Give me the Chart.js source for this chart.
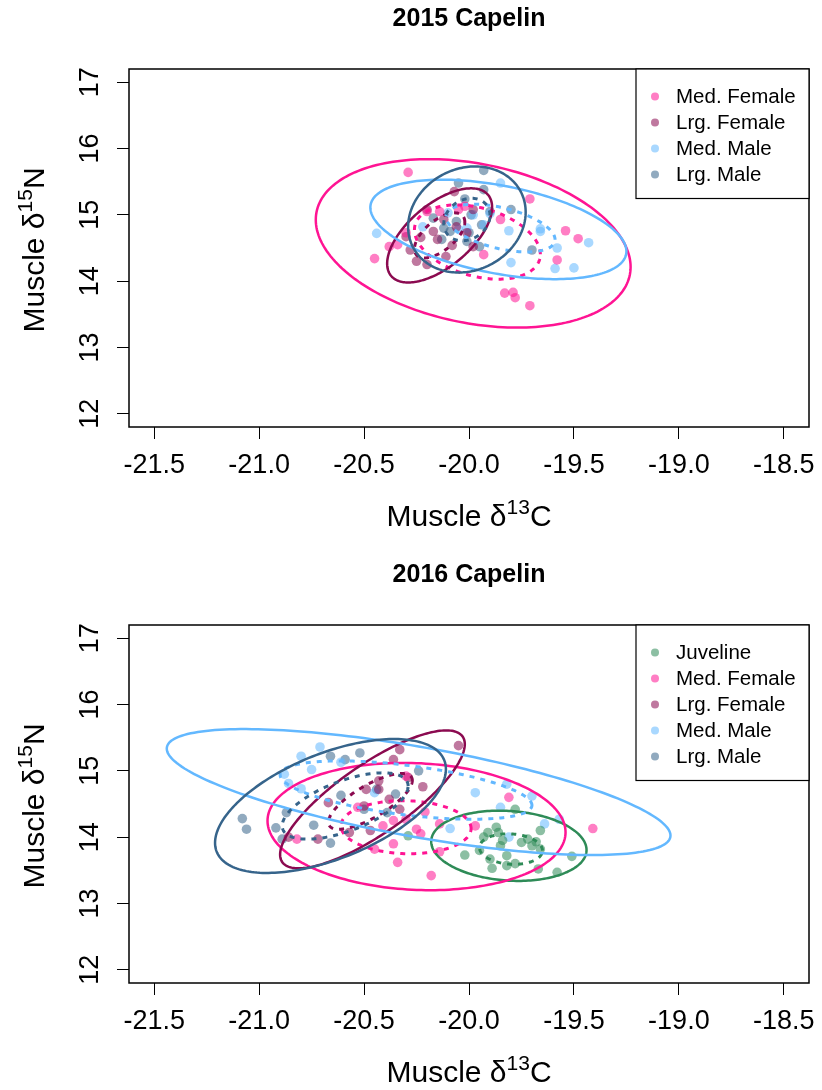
<!DOCTYPE html>
<html>
<head>
  <title>Capelin muscle isotopes</title>
  <script src="https://cdn.jsdelivr.net/npm/chart.js"></script>
  <style>
    html, body { margin: 0; padding: 0; background: #fff; overflow: hidden; }
    canvas { display: block; }
  </style>
</head>
<body>
  <canvas id="chart2015" width="822" height="556"></canvas>
  <canvas id="chart2016" width="822" height="556"></canvas>

  <script>
    // axis ticks
    const xTicks = [-21.5, -21.0, -20.5, -20.0, -19.5, -19.0, -18.5];
    const yTicks = [12, 13, 14, 15, 16, 17];

    // 2015 groups
    const groups2015 = ['Med. Female', 'Lrg. Female', 'Med. Male', 'Lrg. Male'];
    const medFemale2015X = [-20.29, -19.71, -19.54, -19.48, -19.58, -19.83, -19.79, -19.78, -19.71, -20.45, -20.38, -20.34, -19.93, -19.85, -20.05, -20.02, -20.20, -20.30, -20.14];
    const medFemale2015Y = [15.64, 15.24, 14.76, 14.64, 14.32, 13.82, 13.83, 13.75, 13.63, 14.34, 14.52, 14.55, 14.40, 14.93, 15.08, 15.13, 15.05, 14.73, 15.05];
    const lrgFemale2015X = [-20.07, -20.20, -20.12, -20.30, -20.28, -20.25, -20.20, -20.11, -20.08, -20.15, -19.98, -20.06, -20.01, -20.17, -20.23, -19.98];
    const lrgFemale2015Y = [15.35, 15.08, 14.93, 14.67, 14.47, 14.30, 14.25, 14.37, 14.54, 14.63, 15.08, 14.82, 14.73, 14.75, 14.66, 14.52];
    const medMale2015X = [-20.44, -20.22, -20.10, -19.98, -19.93, -19.85, -19.81, -19.80, -19.66, -19.58, -19.43, -19.59, -19.50, -20.01, -20.05, -19.90, -19.66];
    const medMale2015Y = [14.72, 14.82, 15.03, 15.00, 14.85, 15.48, 14.76, 14.28, 14.79, 14.50, 14.58, 14.19, 14.20, 14.80, 14.78, 15.02, 14.75];
    const lrgMale2015X = [-19.93, -20.05, -19.93, -20.02, -19.80, -20.17, -20.12, -20.09, -20.00, -20.01, -19.95, -19.70, -20.13, -19.99, -20.06, -19.90, -19.94];
    const lrgMale2015Y = [15.67, 15.48, 15.38, 15.24, 15.08, 14.95, 14.80, 14.75, 14.73, 14.60, 14.52, 14.47, 14.63, 15.00, 14.90, 15.05, 14.85];

    // ellipses: [centre x, centre y, half width x, half height y, correlation]
    const solid2015 = [
      [-19.98, 14.57, 0.75, 1.27, -0.28],
      [-20.14, 14.69, 0.25, 0.71, 0.60],
      [-19.86, 14.78, 0.61, 0.75, -0.44],
      [-20.01, 14.93, 0.28, 0.80, 0.14]
    ];
    const dotted2015 = [
      [-19.96, 14.59, 0.30, 0.56, -0.33],
      [-20.14, 14.69, 0.12, 0.34, 0.60],
      [-19.85, 14.80, 0.26, 0.36, -0.48],
      [-20.01, 14.93, 0.11, 0.32, 0.20]
    ];

    // 2016 groups
    const groups2016 = ['Juveline', 'Med. Female', 'Lrg. Female', 'Med. Male', 'Lrg. Male'];
    const juvenile2016X = [-19.91, -19.87, -19.86, -19.84, -19.85, -19.95, -20.02, -19.90, -19.82, -19.78, -19.82, -19.89, -19.75, -19.72, -19.68, -19.70, -19.66, -19.66, -19.78, -19.67, -19.58, -19.51, -20.29, -19.93];
    const juvenile2016Y = [14.07, 14.15, 14.07, 13.95, 13.87, 13.80, 13.73, 13.67, 13.72, 13.60, 13.57, 13.53, 13.92, 13.97, 13.93, 13.87, 13.82, 14.10, 14.42, 13.52, 13.47, 13.71, 14.02, 14.00];
    const medFemale2016X = [-20.30, -20.36, -20.30, -20.25, -20.23, -20.14, -20.36, -20.45, -20.34, -20.18, -20.14, -19.97, -19.81, -19.41, -20.82, -20.41, -20.53, -20.21];
    const medFemale2016Y = [14.92, 14.25, 14.27, 14.12, 14.05, 14.20, 13.90, 13.82, 13.62, 13.42, 13.78, 14.17, 14.60, 14.13, 13.97, 14.17, 14.45, 14.38];
    const lrgFemale2016X = [-20.05, -20.33, -20.36, -20.49, -20.43, -20.22, -20.29, -20.67, -20.50, -20.57, -20.72, -20.47, -20.86, -20.33, -20.43, -20.38];
    const lrgFemale2016Y = [15.38, 15.32, 15.17, 14.72, 14.72, 14.76, 14.90, 14.52, 14.47, 14.07, 13.97, 14.10, 14.00, 14.42, 14.85, 14.57];
    const medMale2016X = [-20.71, -20.80, -20.75, -20.88, -20.86, -20.80, -20.61, -20.45, -20.09, -19.97, -19.82, -19.70, -19.85, -19.57, -19.64, -19.81];
    const medMale2016Y = [15.36, 15.22, 15.02, 14.95, 14.81, 14.73, 15.13, 14.67, 14.13, 14.67, 14.80, 14.62, 14.45, 14.27, 14.20, 14.00];
    const lrgMale2016X = [-21.08, -21.06, -20.92, -20.89, -20.87, -20.74, -20.66, -20.66, -20.59, -20.52, -20.61, -20.24, -20.44, -20.39, -20.50, -20.35];
    const lrgMale2016Y = [14.28, 14.12, 14.14, 13.97, 14.37, 14.18, 13.91, 15.22, 15.17, 15.27, 14.63, 15.00, 14.72, 14.37, 14.42, 14.65];

    const solid2016 = [
      [-19.81, 13.87, 0.37, 0.53, -0.12],
      [-20.25, 14.16, 0.71, 0.96, -0.09],
      [-20.46, 14.57, 0.44, 1.04, 0.80],
      [-20.24, 14.68, 1.20, 0.95, -0.69],
      [-20.66, 14.47, 0.55, 1.01, 0.55]
    ];
    const dotted2016 = [
      [-19.80, 13.82, 0.15, 0.23, -0.10],
      [-20.30, 14.15, 0.31, 0.40, -0.05],
      [-20.47, 14.54, 0.20, 0.42, 0.75],
      [-20.30, 14.71, 0.60, 0.44, -0.52],
      [-20.59, 14.47, 0.30, 0.50, 0.60]
    ];

    const lineColors = {
      'Juveline': '#2E8B57',
      'Med. Female': '#FF1493',
      'Lrg. Female': '#8B0A50',
      'Med. Male': '#63B8FF',
      'Lrg. Male': '#36648B'
    };

    const FONT = '"Liberation Sans", Arial, sans-serif';
    Chart.defaults.font.family = FONT;
    Chart.defaults.color = '#000';

    function fade(hex, a) {
      const n = parseInt(hex.slice(1), 16);
      return `rgba(${(n >> 16) & 255}, ${(n >> 8) & 255}, ${n & 255}, ${a})`;
    }

    function drawEllipse(ctx, xs, ys, e, color, dash) {
      const [cx, cy, sx, sy, r] = e;
      const q = Math.sqrt(1 - r * r);
      ctx.beginPath();
      for (let k = 0; k <= 200; k++) {
        const t = 2 * Math.PI * k / 200;
        const px = xs.getPixelForValue(cx + sx * Math.cos(t));
        const py = ys.getPixelForValue(cy + sy * (r * Math.cos(t) + q * Math.sin(t)));
        if (k === 0) ctx.moveTo(px, py); else ctx.lineTo(px, py);
      }
      ctx.closePath();
      ctx.strokeStyle = color;
      ctx.lineWidth = dash.length ? 3 : 2.5;
      ctx.setLineDash(dash);
      ctx.stroke();
    }

    // text with one raised part, centred on 0
    function drawLabel(ctx, parts) {
      let w = 0;
      parts.forEach(p => { ctx.font = p[1] + 'px ' + FONT; p.w = ctx.measureText(p[0]).width; w += p.w; });
      let x = -w / 2;
      ctx.textAlign = 'left';
      ctx.textBaseline = 'alphabetic';
      parts.forEach(p => {
        ctx.font = p[1] + 'px ' + FONT;
        ctx.fillText(p[0], x, p[2]);
        x += p.w;
      });
    }

    const rStyle = {
      id: 'rStyle',
      afterDatasetsDraw(chart, args, opts) {
        const { ctx, chartArea: a, scales: { x, y } } = chart;

        // ellipses, clipped to the plot box
        ctx.save();
        ctx.beginPath();
        ctx.rect(a.left, a.top, a.right - a.left, a.bottom - a.top);
        ctx.clip();
        opts.groups.forEach((g, i) => {
          drawEllipse(ctx, x, y, opts.solid[i], lineColors[g], []);
          drawEllipse(ctx, x, y, opts.dotted[i], lineColors[g], [5, 6]);
        });
        ctx.restore();

        ctx.save();
        ctx.setLineDash([]);
        ctx.strokeStyle = '#000';
        ctx.lineWidth = 1.5;
        ctx.strokeRect(a.left, a.top, a.right - a.left, a.bottom - a.top);

        // legend
        const lw = 173, rowH = 26;
        const lx = a.right - lw, ly = a.top;
        const lh = 27.5 + (opts.groups.length - 1) * rowH + 24;
        ctx.fillStyle = '#fff';
        ctx.fillRect(lx, ly, lw, lh);
        ctx.lineWidth = 1.2;
        ctx.strokeRect(lx, ly, lw, lh);
        ctx.font = '20.5px ' + FONT;
        ctx.textAlign = 'left';
        ctx.textBaseline = 'middle';
        opts.groups.forEach((g, i) => {
          const cy = ly + 27.5 + i * rowH;
          ctx.beginPath();
          ctx.arc(lx + 19, cy, 4, 0, 2 * Math.PI);
          ctx.fillStyle = fade(lineColors[g], 0.55);
          ctx.fill();
          ctx.fillStyle = '#000';
          ctx.fillText(g, lx + 40, cy + 1);
        });

        // rotated y tick labels
        ctx.fillStyle = '#000';
        ctx.font = '27px ' + FONT;
        ctx.textAlign = 'center';
        ctx.textBaseline = 'alphabetic';
        yTicks.forEach(v => {
          ctx.save();
          ctx.translate(98, y.getPixelForValue(v));
          ctx.rotate(-Math.PI / 2);
          ctx.fillText(String(v), 0, 0);
          ctx.restore();
        });

        // axis titles with superscripts
        ctx.save();
        ctx.translate((a.left + a.right) / 2, a.bottom + 99);
        drawLabel(ctx, [['Muscle \u03B4', 30, 0], ['13', 21, -12], ['C', 30, 0]]);
        ctx.restore();

        ctx.save();
        ctx.translate(44, (a.top + a.bottom) / 2 + 2);
        ctx.rotate(-Math.PI / 2);
        drawLabel(ctx, [['Muscle \u03B4', 30, 0], ['15', 21, -12], ['N', 30, 0]]);
        ctx.restore();

        ctx.restore();
      }
    };

    function makeChart(id, title, groups, xsList, ysList, solid, dotted) {
      const datasets = groups.map((g, i) => ({
        label: g,
        data: xsList[i].map((v, j) => ({ x: v, y: ysList[i][j] })),
        backgroundColor: fade(lineColors[g], 0.55),
        pointRadius: 4.8,
        pointHoverRadius: 4.8,
        pointBorderWidth: 0
      }));

      new Chart(document.getElementById(id).getContext('2d'), {
        type: 'scatter',
        data: { datasets: datasets },
        options: {
          responsive: false,
          animation: false,
          devicePixelRatio: 1,
          layout: { padding: { left: 0, right: 13, top: 0, bottom: 0 } },
          scales: {
            x: {
              type: 'linear',
              min: -21.62,
              max: -18.38,
              afterBuildTicks: s => { s.ticks = xTicks.map(v => ({ value: v })); },
              afterFit: s => { s.height = 129; s.paddingLeft = 0; s.paddingRight = 0; },
              ticks: {
                font: { size: 27 },
                color: '#000',
                padding: 10,
                maxRotation: 0,
                autoSkip: false,
                callback: v => v.toFixed(1)
              },
              grid: { display: true, drawOnChartArea: false, drawTicks: true, tickLength: 12, color: '#000', lineWidth: 1 },
              border: { display: false }
            },
            y: {
              type: 'linear',
              min: 11.8,
              max: 17.2,
              afterBuildTicks: s => { s.ticks = yTicks.map(v => ({ value: v })); },
              afterFit: s => { s.width = 129; s.paddingTop = 0; s.paddingBottom = 0; },
              ticks: { display: false },
              grid: { display: true, drawOnChartArea: false, drawTicks: true, tickLength: 12, color: '#000', lineWidth: 1 },
              border: { display: false }
            }
          },
          plugins: {
            legend: { display: false },
            tooltip: { enabled: false },
            title: {
              display: true,
              fullSize: false,
              text: title,
              color: '#000',
              font: { size: 25, weight: 'bold' },
              padding: { top: 4, bottom: 35 }
            },
            rStyle: { groups: groups, solid: solid, dotted: dotted }
          }
        },
        plugins: [rStyle]
      });
    }

    makeChart('chart2015', '2015 Capelin', groups2015,
      [medFemale2015X, lrgFemale2015X, medMale2015X, lrgMale2015X],
      [medFemale2015Y, lrgFemale2015Y, medMale2015Y, lrgMale2015Y],
      solid2015, dotted2015);

    makeChart('chart2016', '2016 Capelin', groups2016,
      [juvenile2016X, medFemale2016X, lrgFemale2016X, medMale2016X, lrgMale2016X],
      [juvenile2016Y, medFemale2016Y, lrgFemale2016Y, medMale2016Y, lrgMale2016Y],
      solid2016, dotted2016);
  </script>
</body>
</html>
